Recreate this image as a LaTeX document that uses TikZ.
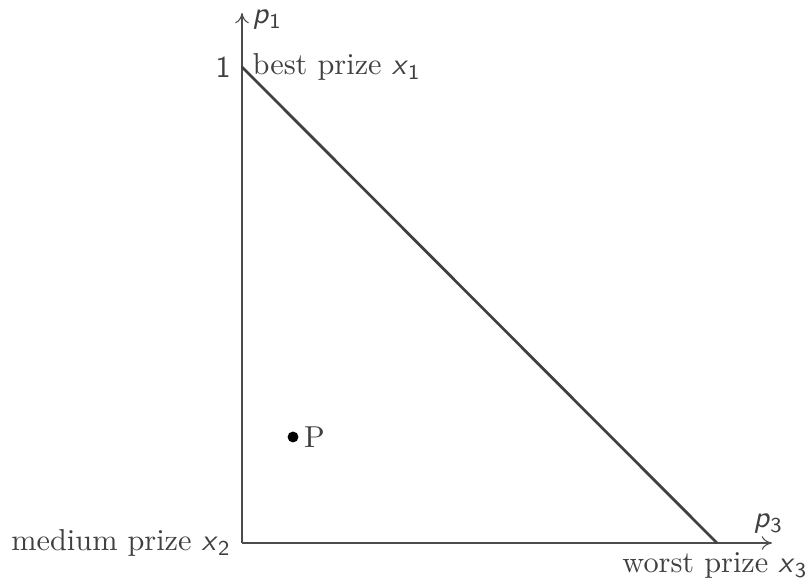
\documentclass[tikz,border=0pt]{standalone}
\usepackage{tikz}
\usetikzlibrary{arrows.meta,positioning}
\newcommand{\svar}[2]{\textsf{\textit{#1}}\textsubscript{\textsf{#2}}}
\tikzset{
  >={To[length=1.2mm,width=1.6mm]},
  axis/.style={draw=black!70, line width=0.35pt},
  simplex/.style={draw=black!75, line width=0.9pt},
  lbl/.style={text=black!75, inner sep=1pt},
  lottery/.style={fill=black, circle, inner sep=0pt, minimum size=3.6pt},
}
\begin{document}
\begin{tikzpicture}[x=0.33pt,y=-0.33pt]
  \useasboundingbox (0,0) rectangle (812,581);
  \coordinate (O) at (242,543);
  \coordinate (ytop) at (242,13);
  \coordinate (xend) at (772,543);
  \coordinate (best) at (242,67);
  \coordinate (worst) at (717,543);

  \draw[axis,->] (O) -- (ytop);
  \draw[axis,->] (O) -- (xend);
  \draw[simplex] (best) -- (worst);

  \node[lbl, anchor=base west] (p1) at (249,24) {\svar{p}{1}};
  \node[lbl, anchor=base west] (p3) at (750,528) {\svar{p}{3}};
  \node[lbl, left=2.5pt of best] (one) {\textsf{1}};
  \node[lbl, anchor=west] (bestlbl) at (249,67) {best prize \svar{x}{1}};
  \node[lbl, left=2.5pt of O] (medlbl) {medium prize \svar{x}{2}};
  \node[lbl, anchor=north] (worstlbl) at (715,549) {worst prize \svar{x}{3}};

  \node[lottery] (P) at (293,437) {};
  \node[lbl, right=0.5pt of P] (Plbl) {P};
\end{tikzpicture}
\end{document}
